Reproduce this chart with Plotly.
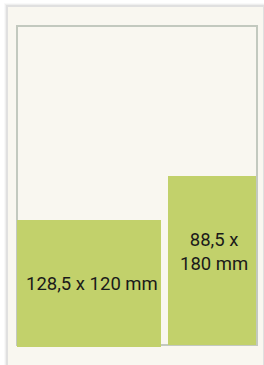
import plotly.graph_objects as go

# Diagram data (display extents in pixel units of the layout drawing)
labels = ["128,5 x 120 mm", "88,5 x<br>180 mm"]
box_x0 = [17, 168]
box_x1 = [161, 256]
box_y0 = [220, 176]
box_y1 = [347, 345]
label_y = [284, 252]
label_x = [92, 214]

page = dict(x0=8, x1=263, y0=7, y1=380)
type_area = dict(x0=17, x1=257, y0=26, y1=345)

W, H = 264, 365
GREEN = "#c2d16b"
PAGE = "#f9f7f0"
BORDER = "#c3c9bf"

fig = go.Figure()

centers = [(a + b) / 2 for a, b in zip(box_x0, box_x1)]
widths = [b - a for a, b in zip(box_x0, box_x1)]
heights = [b - a for a, b in zip(box_y0, box_y1)]

fig.add_trace(go.Bar(
    x=centers, y=heights, base=box_y0, width=widths,
    marker=dict(color=GREEN, line=dict(width=0)),
    hoverinfo="skip", showlegend=False,
))

shapes = []
# soft page shadow
for i, op in enumerate([0.025, 0.04, 0.06]):
    d = 4 - i
    shapes.append(dict(type="rect", xref="x", yref="y", layer="below",
                       x0=page["x0"] - d, x1=page["x1"] + d,
                       y0=page["y0"] - d, y1=page["y1"],
                       fillcolor=f"rgba(0,0,0,{op})", line=dict(width=0)))
shapes.append(dict(type="rect", xref="x", yref="y", layer="below",
                   x0=page["x0"], x1=page["x1"], y0=page["y0"], y1=page["y1"],
                   fillcolor=PAGE, line=dict(width=0)))
shapes.append(dict(type="rect", xref="x", yref="y", layer="below",
                   x0=type_area["x0"], x1=type_area["x1"],
                   y0=type_area["y0"], y1=type_area["y1"],
                   fillcolor=PAGE, line=dict(color=BORDER, width=2)))

annotations = []
for lab, lx, ly in zip(labels, label_x, label_y):
    annotations.append(dict(x=lx, y=ly, xref="x", yref="y", text=lab,
                            showarrow=False,
                            font=dict(family="Roboto", size=18.5, color="#1a1a1a"),
                            xanchor="center", yanchor="middle", align="center"))

fig.update_layout(
    width=W, height=H,
    margin=dict(l=0, r=0, t=0, b=0),
    paper_bgcolor="white", plot_bgcolor="white",
    xaxis=dict(range=[0, W], visible=False, fixedrange=True),
    yaxis=dict(range=[H, 0], visible=False, fixedrange=True),
    shapes=shapes, annotations=annotations,
    bargap=0,
)

fig.write_html("out.html", config={"displayModeBar": False},
               post_script="document.body.style.margin='0';document.body.style.overflow='hidden';")
